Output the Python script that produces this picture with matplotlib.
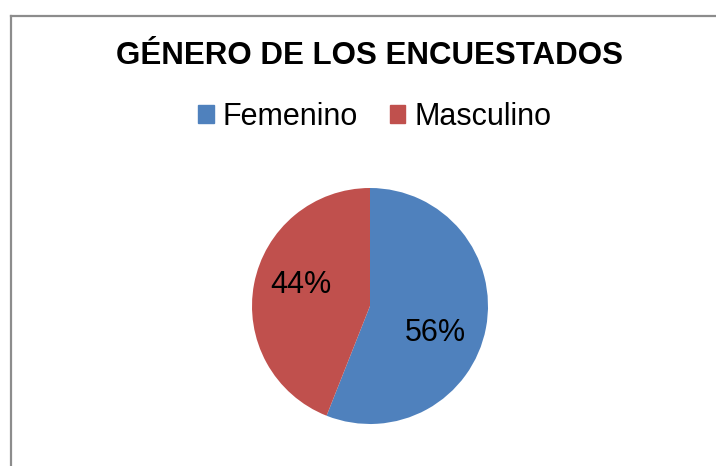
import matplotlib.pyplot as plt
from matplotlib.lines import Line2D
from matplotlib.patches import Rectangle

plt.rcParams['font.family'] = ['Liberation Sans', 'DejaVu Sans']

labels = ["Femenino", "Masculino"]
values = [56, 44]
colors = ["#4F81BD", "#C0504D"]
# label placement inside the pie (axes data units, Excel-like)
label_pos = [(0.55, -0.23), (-0.585, 0.18)]

W, H = 716, 466
fig = plt.figure(figsize=(W / 100, H / 100), dpi=100)

# chart border (only left and top visible in the crop)
fig.add_artist(Line2D([10.5 / W, 10.5 / W], [0, 1 - 15.5 / H], color="#8c8c8c", lw=1.6))
fig.add_artist(Line2D([10.5 / W, 1], [1 - 15.5 / H, 1 - 15.5 / H], color="#8c8c8c", lw=1.6))

fig.text(370 / W, 1 - 56 / H, "GÉNERO DE LOS ENCUESTADOS", ha="center", va="center",
         fontsize=22.5, fontweight="bold")

# pie
ax = fig.add_axes([252 / W, 42 / H, 236 / W, 236 / H])
wedges, texts, autotexts = ax.pie(values, colors=colors, startangle=90, counterclock=False,
                                  autopct="%1.0f%%", pctdistance=0.6,
                                  textprops={"fontsize": 22, "color": "black"})
for t, p in zip(autotexts, label_pos):
    t.set_position(p)
ax.set_aspect("equal")
ax.set_xlim(-1, 1)
ax.set_ylim(-1, 1)

# legend
handles = [Rectangle((0, 0), 1, 1, color=c) for c in colors]
fig.legend(handles, labels, loc="center", bbox_to_anchor=(375 / W, 1 - 117 / H), ncol=2,
           frameon=False, fontsize=22, handlelength=0.5, handleheight=0.5,
           handletextpad=0.3, columnspacing=1.05)

fig.savefig("out.png", dpi=100)
